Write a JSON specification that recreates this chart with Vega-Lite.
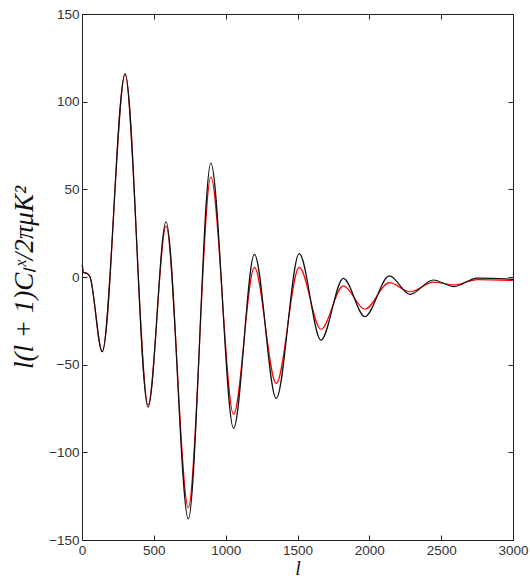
{
  "$schema": "https://vega.github.io/schema/vega-lite/v6.json",
  "autosize": {"type": "none"},
  "padding": {"left": 82, "top": 14, "right": 17, "bottom": 38},
  "width": 431,
  "height": 526,
  "background": "white",
  "config": {
    "view": {"stroke": "#222", "strokeWidth": 1},
    "axis": {
      "grid": false,
      "domainColor": "#222",
      "tickColor": "#222",
      "tickSize": -5,
      "labelFont": "Liberation Sans",
      "labelFontSize": 13.5,
      "labelColor": "#333",
      "labelFlush": false,
      "labelOverlap": false,
      "format": "d",
      "titleFont": "Liberation Serif",
      "titleFontWeight": "normal",
      "titleColor": "#111"
    }
  },
  "datasets": {
    "black": [
      {"l": 2, "v": 6.8}, {"l": 10, "v": 2.6}, {"l": 33, "v": 2.1}, {"l": 56, "v": 0},
      {"l": 141, "v": -42.6}, {"l": 300, "v": 116}, {"l": 460, "v": -74.3}, {"l": 585, "v": 31.5},
      {"l": 740, "v": -138}, {"l": 897, "v": 65}, {"l": 1055, "v": -86.3}, {"l": 1200, "v": 12.9},
      {"l": 1352, "v": -69.2}, {"l": 1512, "v": 13.3}, {"l": 1663, "v": -36}, {"l": 1819, "v": -0.8},
      {"l": 1969, "v": -22.6}, {"l": 2139, "v": 0.6}, {"l": 2283, "v": -9.9}, {"l": 2445, "v": -1.7},
      {"l": 2589, "v": -5.5}, {"l": 2751, "v": -0.6}, {"l": 3000, "v": -1.3}
    ],
    "red": [
      {"l": 2, "v": 6.8}, {"l": 10, "v": 2.6}, {"l": 33, "v": 2.1}, {"l": 56, "v": 0},
      {"l": 141, "v": -42.6}, {"l": 300, "v": 115.5}, {"l": 460, "v": -73}, {"l": 585, "v": 29},
      {"l": 740, "v": -131.5}, {"l": 897, "v": 57}, {"l": 1055, "v": -78.3}, {"l": 1200, "v": 5.5},
      {"l": 1352, "v": -60.7}, {"l": 1512, "v": 5.5}, {"l": 1663, "v": -29.8}, {"l": 1819, "v": -5.1},
      {"l": 1969, "v": -18.4}, {"l": 2139, "v": -3.2}, {"l": 2283, "v": -8.4}, {"l": 2445, "v": -2.9},
      {"l": 2589, "v": -4.5}, {"l": 2751, "v": -1.5}, {"l": 3000, "v": -2}
    ]
  },
  "layer": [
    {
      "data": {"name": "red"},
      "mark": {"type": "line", "color": "#ff0000", "strokeWidth": 1.2, "interpolate": "monotone"},
      "encoding": {
        "x": {"field": "l", "type": "quantitative", "scale": {"domain": [0, 3000], "nice": false},
              "axis": {"orient": "top", "labels": false, "title": null, "values": [0, 500, 1000, 1500, 2000, 2500, 3000]}},
        "y": {"field": "v", "type": "quantitative", "scale": {"domain": [-150, 150], "nice": false},
              "axis": {"orient": "right", "labels": false, "title": null, "values": [-150, -100, -50, 0, 50, 100, 150]}}
      }
    },
    {
      "data": {"name": "black"},
      "mark": {"type": "line", "color": "#111111", "strokeWidth": 1.2, "interpolate": "monotone"},
      "encoding": {
        "x": {"field": "l", "type": "quantitative",
              "axis": {"orient": "bottom", "title": "l", "titleFontStyle": "italic", "titleFontSize": 20, "titleBaseline": "alphabetic", "titleY": 34, "values": [0, 500, 1000, 1500, 2000, 2500, 3000], "labelPadding": 8}},
        "y": {"field": "v", "type": "quantitative",
              "axis": {"orient": "left", "title": "l(l + 1)Cₗˣ/2πμK²", "titleFontStyle": "italic", "titleFontSize": 27, "values": [-150, -100, -50, 0, 50, 100, 150], "labelPadding": 8, "titleX": -44, "titleY": 263}}
      }
    }
  ],
  "resolve": {"axis": {"x": "independent", "y": "independent"}}
}
